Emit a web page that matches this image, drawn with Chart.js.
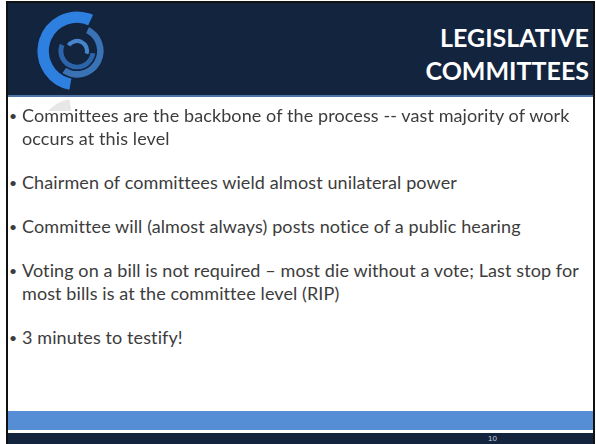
<!DOCTYPE html>
<html>
<head>
<meta charset="utf-8">
<script src="https://cdn.jsdelivr.net/npm/chart.js@4.4.1/dist/chart.umd.min.js"></script>
<style>
  html, body { margin: 0; padding: 0; background: #fff; }
  #slide {
    position: absolute; left: 6px; top: 1px; width: 585px; height: 443px;
    border: 2px solid #111; border-bottom: none; background: #fff; overflow: hidden;
    font-family: Lato, "Open Sans", sans-serif;
  }
  #header { position: absolute; left: 0; top: 0; width: 100%; height: 92px; background: #13243f; border-bottom: 2px solid #4d74a8; }
  #logoBox { position: absolute; left: 28px; top: 7px; width: 82px; height: 82px; }
  #reflect { position: absolute; left: 28px; top: 94px; width: 82px; height: 14px; overflow: hidden; opacity: 0.18; filter: grayscale(1); }
  #reflectInner { width: 82px; height: 82px; transform: scaleY(-1); }
  #title { position: absolute; right: 4px; top: 18px; text-align: right; color: #fff; font-weight: bold; font-size: 25px; line-height: 33px; }
  .line { position: absolute; color: #3c3c3c; font-size: 18px; letter-spacing: 0.1px; white-space: nowrap; }
  .bullet { position: absolute; color: #3c3c3c; font-size: 14px; }
  #blueBar { position: absolute; left: 0; top: 408px; width: 100%; height: 19px; background: #558ed5; border-bottom: 3px solid #fff; }
  #footer { position: absolute; left: 0; top: 430px; width: 100%; height: 14px; background: #13243f; }
  #num { position: absolute; left: 480px; top: 1px; color: #c8d0dc; font-size: 8px; font-family: "Liberation Sans", sans-serif; }
</style>
</head>
<body>
<div id="slide">
  <div id="header">
    <div id="logoBox"><canvas id="logo"></canvas></div>
    <div id="title"></div>
  </div>
  <div id="reflect"><div id="reflectInner"><canvas id="logoReflect"></canvas></div></div>
  <div id="body"></div>
  <div id="blueBar"></div>
  <div id="footer"><div id="num"></div></div>
</div>
<script>
// slide text
const titleLines = ['LEGISLATIVE', 'COMMITTEES'];
const bulletItems = [
  ['Committees are the backbone of the process -- vast majority of work', 'occurs at this level'],
  ['Chairmen of committees wield almost unilateral power'],
  ['Committee will (almost always) posts notice of a public hearing'],
  ['Voting on a bill is not required \u2013 most die without a vote; Last stop for', 'most bills is at the committee level (RIP)'],
  ['3 minutes to testify!']
];
const slideNumber = '10';

// logo swirl: one ring per arc, outer to inner (degrees, 0 = top, clockwise)
const arcStart = [190, 25, 95, 300];
const arcSweep = [195, 190, 200, 170];
const arcColors = ['#2d7fe0', '#3a72b6', '#2c64aa', '#4684cc'];
const arcWeights = [3.2, 2, 1.6, 1.4];

document.getElementById('title').innerHTML = titleLines.join('<br>');
document.getElementById('num').textContent = slideNumber;

// bullet layout
const body = document.getElementById('body');
let y = 101;
bulletItems.forEach(function (item) {
  const b = document.createElement('div');
  b.className = 'bullet';
  b.textContent = '\u2022';
  b.style.left = '1px';
  b.style.top = (y + 3) + 'px';
  body.appendChild(b);
  item.forEach(function (txt) {
    const d = document.createElement('div');
    d.className = 'line';
    d.textContent = txt;
    d.style.left = '14px';
    d.style.top = y + 'px';
    body.appendChild(d);
    y += 23;
  });
  y += 21;
});

function makeLogo(id, gapColor) {
  new Chart(document.getElementById(id), {
    type: 'doughnut',
    data: {
      datasets: arcStart.map(function (s, i) {
        return {
          data: [1],
          rotation: s,
          circumference: arcSweep[i],
          backgroundColor: [arcColors[i]],
          borderColor: gapColor,
          borderWidth: 1.5,
          weight: arcWeights[i]
        };
      })
    },
    options: {
      responsive: true,
      maintainAspectRatio: true,
      animation: false,
      cutout: '18%',
      plugins: { legend: { display: false }, tooltip: { enabled: false } },
      layout: { padding: 0 }
    }
  });
}
makeLogo('logo', '#13243f');
makeLogo('logoReflect', '#ffffff');
</script>
</body>
</html>
